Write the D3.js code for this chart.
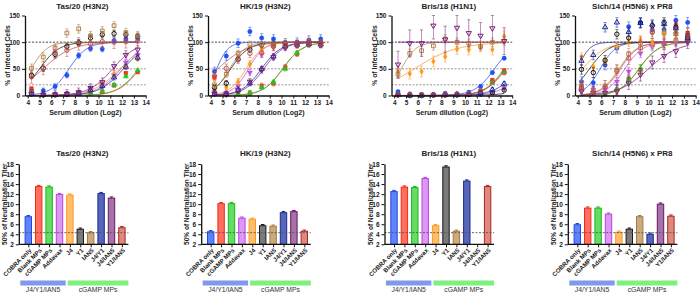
<!DOCTYPE html>
<html><head><meta charset="utf-8">
<script src="https://cdn.jsdelivr.net/npm/d3@7"></script>
<style>
body{margin:0;background:#fff}
svg{display:block}
text{font-family:"Liberation Sans",Arial,sans-serif;font-weight:bold;fill:#222}
</style></head><body>
<svg id="c" width="700" height="294"></svg>
<script>
// ---------- data ----------
const panels = ["Tas/20 (H3N2)", "HK/19 (H3N2)", "Bris/18 (H1N1)", "Sich/14 (H5N6) x PR8"];
const groups = ["COBRA only","Blank MPs","cGAMP MPs","Addavax","J4","Y1","IAN5","J4/Y1","J4/IAN5","Y1/IAN5"];
const dilutions = [4.32,5.32,6.32,7.32,8.32,9.32,10.32,11.32,12.32,13.32];
const xTicks = [4,5,6,7,8,9,10,11,12,13,14];
const yTicks = [0,50,100,150];
const titerTicks = [2,4,6,8,10,12,14,16,18];
const refLines = [100,50,20];
const lod = 4.32;
const groupBarLabels = ["J4/Y1/IAN5","cGAMP MPs"];

// 50% neutralization titers (also the curve midpoints)
const titerTas  = [7.5,13.5,13.4,11.9,11.8,5.0,4.3,12.1,11.2,5.3];
const titerHK   = [4.5,10.1,10.1,7.2,7.0,5.7,5.6,8.3,8.5,4.6];
const titerBris = [12.5,13.4,13.3,15.1,5.7,17.4,4.6,14.6,null,13.5];
const titerSich = [5.9,9.2,9.2,8.0,4.4,5.0,7.5,4.0,10.0,7.6];

// fitted hill slopes
const slopeTas  = [1.3,1.1,1.1,1.0,0.9,1.2,1.5,1.0,1.0,0.8];
const slopeHK   = [2.0,1.2,1.2,1.5,1.4,1.3,1.5,1.2,1.2,0.8];
const slopeBris = [1.2,1.2,1.2,1.0,0.55,0.8,1.6,1.0,0,1.1];
const slopeSich = [1.5,1.2,1.2,1.3,1.0,1.2,1.3,2.0,0.8,1.3];

// % infected cells per series (rows follow groups)
const infTas = [
 [9,9,17,38,75,88,87,103,106,107],
 [13,1,1,2,6,4,7,19,42,44],
 [7,1,1,2,4,5,8,20,36,47],
 [3,1,2,3,5,10,20,38,62,76],
 [4,1,1,2,6,12,22,40,55,69],
 [38,51,77,92,99,108,114,116,114,111],
 [51,72,89,117,125,112,121,131,118,112],
 [3,1,1,2,4,10,18,34,54,71],
 [3,1,2,3,6,14,25,55,76,86],
 [35,51,81,85,97,97,101,100,101,102]];
const infHK = [
 [45,74,98,120,108,106,99,100,104,106],
 [34,3,3,4,18,23,53,78,101,99],
 [8,3,3,5,15,25,50,80,97,95],
 [6,4,18,43,77,90,95,97,98,96],
 [12,15,26,59,85,92,98,96,100,96],
 [15,23,68,86,95,96,97,97,99,98],
 [20,40,79,96,96,95,96,97,99,97],
 [3,2,10,23,50,73,92,95,97,96],
 [3,2,10,26,48,72,90,96,98,96],
 [37,51,68,79,80,92,95,96,98,97]];
const infBris = [
 [7,3,2,1,4,3,6,17,43,70],
 [2,1,1,1,1,2,2,8,29,47],
 [2,1,1,1,1,1,2,6,24,44],
 [1,0,0,1,1,1,2,3,7,14],
 [45,41,45,64,73,87,86,92,86,111],
 [1,0,0,1,1,1,2,3,5,10],
 [40,79,84,93,106,100,98,92,100,102],
 [1,0,0,1,1,2,2,5,11,22],
 [58,98,98,131,105,127,117,112,126,102],
 [1,1,1,1,1,2,3,9,26,43]];
const infSich = [
 [26,24,57,89,129,137,123,123,141,137],
 [16,3,2,11,31,48,98,98,131,117],
 [11,3,3,12,30,50,95,97,115,110],
 [11,11,11,26,45,79,92,98,100,105],
 [72,54,64,92,100,104,98,117,114,109],
 [49,43,66,115,108,136,131,137,128,111],
 [18,8,18,48,78,89,120,117,104,104],
 [65,76,128,137,119,136,133,134,126,108],
 [8,5,5,8,23,39,62,74,83,100],
 [14,4,16,45,70,98,119,98,117,115]];

// typical SD per series
const sdTas  = [5,3,3,4,4,6,8,5,8,12];
const sdHK   = [8,5,4,6,6,5,6,5,6,8];
const sdBris = [3,3,3,2,10,2,8,4,25,4];
const sdSich = [9,9,8,8,8,9,10,9,12,12];

const titers = [titerTas,titerHK,titerBris,titerSich];
const slopes = [slopeTas,slopeHK,slopeBris,slopeSich];
const infected = [infTas,infHK,infBris,infSich];
const sds = [sdTas,sdHK,sdBris,sdSich];

// ---------- styles ----------
const markColor = ["#1f4ff5","#ff2a1a","#22c422","#c24de8","#ff9a1f","#111111","#b5834a","#1c2a9a","#7a1f7a","#c0504d"];
const barFill   = ["#5f84f8","#ff6f60","#66dc66","#dc98f3","#ffbe6e","#7a7a7a","#cdaa7c","#5666b9","#a673a6","#db8a7e"];
const barEdge   = ["#1e46f0","#f02a14","#18b818","#bb40e0","#ff9820","#1a1a1a","#a27a45","#1b2a90","#6a136a","#b52222"];
const shapes = ["circle","square","triangle","tridown","diamond","circle","square","triangle","tridown","circle"];
const filled = [true,true,true,true,true,false,false,false,false,false];

const svg = d3.select("#c");
const topX0 = [25,208,391.5,575], topW = 120.7;
const topYr = [95.5,15.5];
const botFirst = [28.3,210.7,394,577.3], botStep = 10.4;
const botYr = [244.3,164];

function symPath(s){
  const m = {circle:d3.symbolCircle,square:d3.symbolSquare,triangle:d3.symbolTriangle,tridown:d3.symbolTriangle,diamond:d3.symbolDiamond};
  const size = {circle:15,square:14,triangle:12,tridown:12,diamond:12}[s];
  return d3.symbol().type(m[s]).size(size)();
}

function styleAxis(g){
  g.selectAll(".domain").attr("stroke","#111").attr("stroke-width",1.3);
  g.selectAll(".tick line").attr("stroke","#111").attr("stroke-width",1);
  g.selectAll(".tick text").attr("font-size",6.5).attr("font-family","Liberation Sans, Arial").attr("font-weight","bold").attr("fill","#222");
}

panels.forEach((title,p)=>{
  // ===== top: neutralization curves =====
  const x0 = topX0[p];
  const x = d3.scaleLinear().domain([3.77,14]).range([x0,x0+topW]);
  const y = d3.scaleLinear().domain([0,150]).range(topYr);
  const g = svg.append("g");
  const cid = "clip"+p;
  svg.append("clipPath").attr("id",cid).append("rect")
     .attr("x",x0).attr("y",topYr[1]).attr("width",topW).attr("height",topYr[0]-topYr[1]);

  refLines.forEach(v=>{
    g.append("line").attr("x1",x0).attr("x2",x0+topW).attr("y1",y(v)).attr("y2",y(v))
      .attr("stroke", v===100?"#333":"#8a8a8a").attr("stroke-width",0.9).attr("stroke-dasharray","2,1.5");
  });

  const cg = g.append("g").attr("clip-path",`url(#${cid})`);
  const xs = d3.range(dilutions[0], dilutions[dilutions.length-1]+0.001, 0.1);
  groups.forEach((gr,i)=>{
    const ic = titers[p][i], k = slopes[p][i];
    const pts = xs.map(v=>[v, ic===null?100:100/(1+Math.exp(-k*(v-ic)))]);
    cg.append("path").datum(pts)
      .attr("d", d3.line().x(d=>x(d[0])).y(d=>y(d[1])))
      .attr("fill","none").attr("stroke",markColor[i]).attr("stroke-width",0.9).attr("opacity",0.85);
  });

  groups.forEach((gr,i)=>{
    const col = markColor[i];
    const sd = sds[p][i];
    infected[p][i].forEach((v,j)=>{
      const cx = x(dilutions[j]);
      const hi = Math.min(150, v+sd), lo = Math.max(0, v-sd);
      g.append("line").attr("x1",cx).attr("x2",cx).attr("y1",y(hi)).attr("y2",y(lo))
        .attr("stroke",col).attr("stroke-width",0.7).attr("opacity",0.75);
      [hi,lo].forEach(e=>g.append("line").attr("x1",cx-1.6).attr("x2",cx+1.6).attr("y1",y(e)).attr("y2",y(e))
        .attr("stroke",col).attr("stroke-width",0.7).attr("opacity",0.75));
      const s = shapes[i];
      g.append("path").attr("d",symPath(s))
        .attr("transform",`translate(${cx},${y(v)})`+(s==="tridown"?" rotate(180)":""))
        .attr("fill", filled[i]?col:"none").attr("stroke",col).attr("stroke-width",filled[i]?0.4:1);
    });
  });

  const ax = g.append("g").attr("transform",`translate(0,${topYr[0]})`)
    .call(d3.axisBottom(x).tickValues(xTicks).tickSize(3).tickSizeOuter(0).tickPadding(2));
  styleAxis(ax);
  const ay = g.append("g").attr("transform",`translate(${x0},0)`)
    .call(d3.axisLeft(y).tickValues(yTicks).tickSize(3).tickSizeOuter(0).tickPadding(2));
  styleAxis(ay);

  g.append("text").attr("x",x0+topW/2-3).attr("y",9).attr("text-anchor","middle").attr("font-size",8).text(title);
  g.append("text").attr("x",x0+topW/2).attr("y",115).attr("text-anchor","middle").attr("font-size",7).text("Serum dilution (Log2)");
  g.append("text").attr("transform",`translate(${x0-15},${(topYr[0]+topYr[1])/2}) rotate(-90)`)
    .attr("text-anchor","middle").attr("font-size",6.8).text("% of Infected Cells");

  // ===== bottom: titers =====
  const first = botFirst[p];
  const bx = d3.scalePoint().domain(groups).range([first, first+9*botStep]);
  const by = d3.scaleLinear().domain([2,18]).range(botYr);
  const axisX = first - 9.5, endX = first + 9*botStep + 6.5;
  const b = svg.append("g");
  const bw = 6.4;

  groups.forEach((gr,i)=>{
    const v = titers[p][i];
    if (v===null) return;
    const cx = bx(gr);
    b.append("rect").attr("x",cx-bw/2).attr("y",by(v)).attr("width",bw).attr("height",by(2)-by(v))
      .attr("fill",barFill[i]).attr("stroke",barEdge[i]).attr("stroke-width",1);
    b.append("line").attr("x1",cx).attr("x2",cx).attr("y1",by(v)-1.2).attr("y2",by(v))
      .attr("stroke",barEdge[i]).attr("stroke-width",1);
    b.append("line").attr("x1",cx-1.8).attr("x2",cx+1.8).attr("y1",by(v)-1.2).attr("y2",by(v)-1.2)
      .attr("stroke",barEdge[i]).attr("stroke-width",1);
  });

  b.append("line").attr("x1",axisX).attr("x2",endX).attr("y1",by(lod)).attr("y2",by(lod))
    .attr("stroke","#555").attr("stroke-width",0.9).attr("stroke-dasharray","2,1.5");

  const bax = b.append("g").attr("transform",`translate(0,${botYr[0]})`)
    .call(d3.axisBottom(bx).tickSize(3).tickSizeOuter(0).tickFormat(""));
  styleAxis(bax);
  bax.select(".domain").remove();
  b.append("line").attr("x1",axisX).attr("x2",endX).attr("y1",botYr[0]).attr("y2",botYr[0])
    .attr("stroke","#111").attr("stroke-width",1.3);
  groups.forEach(gr=>{
    b.append("text").attr("transform",`translate(${bx(gr)+2},${botYr[0]+5}) rotate(-45)`)
      .attr("text-anchor","end").attr("dy","0.35em").attr("font-size",6.2).text(gr);
  });
  const bay = b.append("g").attr("transform",`translate(${axisX},0)`)
    .call(d3.axisLeft(by).tickValues(titerTicks).tickSize(3).tickSizeOuter(0).tickPadding(2));
  styleAxis(bay);

  b.append("text").attr("x",x0+topW/2-3).attr("y",156).attr("text-anchor","middle").attr("font-size",8).text(title);
  b.append("text").attr("transform",`translate(${axisX-12},${(botYr[0]+botYr[1])/2}) rotate(-90)`)
    .attr("text-anchor","middle").attr("font-size",6.5).text("50% of Neutralization Titer");

  // group bars
  const mid = (bx(groups[3])+bx(groups[4]))/2;
  const gb = [[first-8, mid+1, "#7f98f0"],[mid+3, endX, "#7ef07e"]];
  gb.forEach((d,k)=>{
    b.append("rect").attr("x",d[0]).attr("y",280.5).attr("width",d[1]-d[0]).attr("height",5).attr("fill",d[2]);
    b.append("text").attr("x",(d[0]+d[1])/2).attr("y",292.3).attr("text-anchor","middle")
      .attr("font-size",6.8).style("font-weight","normal").style("fill","#333").text(groupBarLabels[k]);
  });
});
</script>
</body></html>
